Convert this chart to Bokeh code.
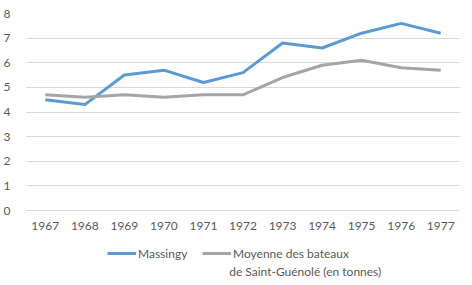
from bokeh.plotting import figure
from bokeh.models import Legend, LegendItem, FixedTicker, Range1d, Label
from bokeh.embed import file_html
from bokeh.resources import INLINE

years = ["1967", "1968", "1969", "1970", "1971", "1972", "1973", "1974", "1975", "1976", "1977"]
massingy = [4.5, 4.3, 5.5, 5.7, 5.2, 5.6, 6.8, 6.6, 7.2, 7.6, 7.2]
moyenne = [4.7, 4.6, 4.7, 4.6, 4.7, 4.7, 5.4, 5.9, 6.1, 5.8, 5.7]
y_ticks = [0, 1, 2, 3, 4, 5, 6, 7, 8]
label_massingy = "Massingy"
label_moyenne_1 = "Moyenne des bateaux"
label_moyenne_2 = "de Saint-Guénolé (en tonnes)"

FONT = "Lato"
TXT = "#595959"

# frame: top at 13 px (y=8), y=0 at 210 px, frame reaches the bottom edge (285 px)
px_per_unit = 197 / 8
y_start = 8 - 272 / px_per_unit

p = figure(x_range=years, y_range=Range1d(y_start, 8), width=472, height=285,
           output_backend="svg", toolbar_location=None,
           min_border_left=20, min_border_right=12, min_border_top=13, min_border_bottom=0)
p.outline_line_color = None
p.background_fill_color = "white"
p.border_fill_color = "white"

r1 = p.line(years, massingy, line_color="#5B9BD5", line_width=3, line_join="round")
r2 = p.line(years, moyenne, line_color="#A5A5A5", line_width=3, line_join="round")

p.xgrid.grid_line_color = None
p.ygrid.grid_line_color = "#D9D9D9"
p.ygrid.grid_line_width = 1
p.yaxis.ticker = FixedTicker(ticks=y_ticks)

for ax in (p.xaxis[0], p.yaxis[0]):
    ax.axis_line_color = None
    ax.major_tick_line_color = None
    ax.minor_tick_line_color = None
    ax.major_label_text_font = FONT
    ax.major_label_text_font_size = "12px"
    ax.major_label_text_color = TXT
p.xaxis.fixed_location = 0
p.xaxis.major_label_standoff = 5
p.yaxis.major_label_standoff = 9

common = dict(orientation="horizontal", glyph_width=29, glyph_height=14,
              label_standoff=2, label_height=20, label_text_font=FONT,
              label_text_font_size="12px", label_text_color=TXT,
              border_line_color=None, background_fill_alpha=0, padding=0, margin=0)
legend1 = Legend(items=[LegendItem(label=label_massingy, renderers=[r1])],
                 location=(82, 22), **common)
legend2 = Legend(items=[LegendItem(label=label_moyenne_1, renderers=[r2])],
                 location=(177, 22), **common)
p.add_layout(legend1, "center")
p.add_layout(legend2, "center")

cont = Label(x=(226 - 20) / 40, y=8 - (271 - 13) / px_per_unit, text=label_moyenne_2,
             text_font=FONT, text_font_size="12px", text_color=TXT,
             text_baseline="middle", text_align="left")
p.add_layout(cont)

open("out.html", "w").write(file_html(p, INLINE))
